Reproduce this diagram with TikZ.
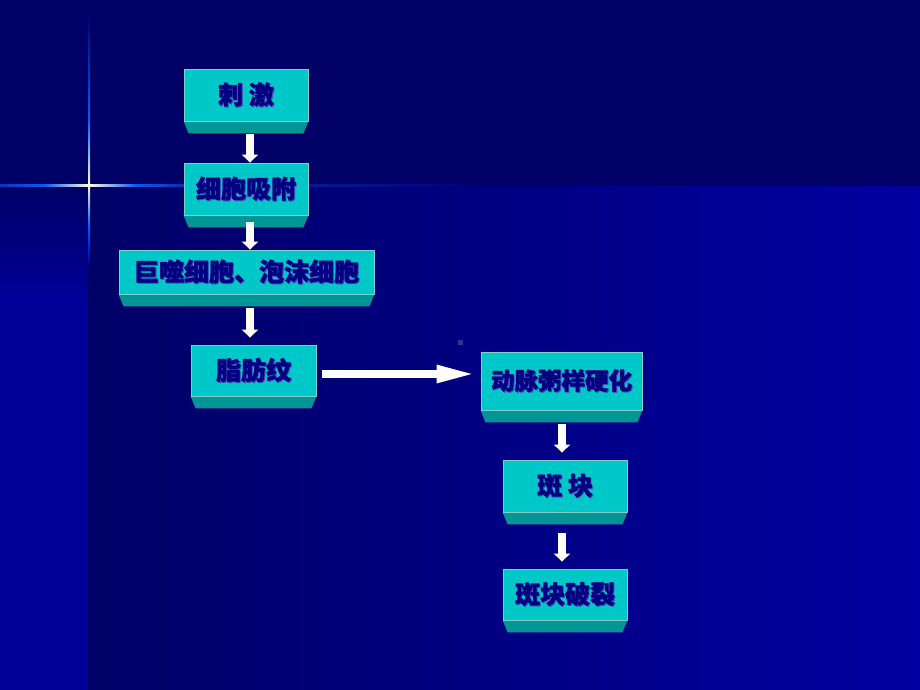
\documentclass[tikz,border=0pt]{standalone}
\usepackage{fontspec}
\newfontfamily\cjk{Noto Sans CJK SC}[BoldFeatures={FakeBold=1.6}]
\usetikzlibrary{arrows.meta,calc}
\definecolor{topbg}{RGB}{0,0,102}
\definecolor{lowbg}{RGB}{0,0,160}
\definecolor{stripbg}{RGB}{0,0,152}
\definecolor{starblue}{RGB}{16,90,245}
\definecolor{starcore}{RGB}{255,255,225}
\definecolor{boxfill}{RGB}{0,200,200}
\definecolor{boxedge}{RGB}{130,205,205}
\definecolor{bevelfill}{RGB}{0,150,150}
\definecolor{textc}{RGB}{0,0,128}
\definecolor{shadowc}{RGB}{70,70,190}
\definecolor{dotc}{RGB}{50,50,150}
\newcommand{\shtext}[1]{\leavevmode\rlap{\color{shadowc}\kern1pt\raisebox{-1pt}{#1}}#1}
\newcommand{\mybevel}[1]{%
  \fill[bevelfill] (#1.south west) -- (#1.south east) -- ++(-5,12) -- ($(#1.south west)+(5,12)$) -- cycle;
  \draw[boxedge,line width=0.8pt] (#1.south west) -- (#1.south east);}
\tikzset{
  stepbox/.style={draw=boxedge, line width=0.8pt, fill=boxfill, inner sep=0pt,
    text=textc, font=\cjk\bfseries\fontsize{25}{25}\selectfont},
  downarrow/.style={draw=white, line width=8pt,
    -{Triangle[width=16pt,length=8pt]}},
  sidearrow/.style={draw=white, line width=8pt,
    -{Triangle[width=16pt,length=40pt]}}
}
\begin{document}
\begin{tikzpicture}[x=1pt,y=-1pt]
\useasboundingbox (0,0) rectangle (920,690);
% background
\fill[topbg] (0,0) rectangle (920,186);
\shade[left color=topbg, right color=lowbg] (88,186) rectangle (920,690);
\shade[top color=topbg, bottom color=stripbg] (0,186) rectangle (88,300);
\fill[stripbg] (0,300) rectangle (88,690);
% star
\shade[top color=topbg, bottom color=starblue] (88,10) rectangle (90,120);
\shade[top color=starblue, bottom color=starcore] (88,120) rectangle (90,185);
\shade[top color=starcore, bottom color=starblue] (88,185) rectangle (90,225);
\shade[top color=starblue, bottom color=stripbg] (88,225) rectangle (90,265);
\shade[left color=starblue!60!topbg, right color=starblue] (0,184) rectangle (45,186);
\shade[left color=starblue, right color=starcore] (45,184) rectangle (89,186);
\shade[left color=starcore, right color=starblue] (89,184) rectangle (135,186);
\shade[left color=starblue, right color=starblue!50!topbg] (135,184) rectangle (185,186);
\shade[left color=starblue!50!topbg, right color=topbg!70!lowbg] (185,184) rectangle (480,186);
% stray dot
\fill[dotc] (458,340) rectangle (463,345);
% boxes
\node[stepbox, minimum width=124pt, minimum height=52pt] (n1) at (246,95) {\shtext{刺 激}};
\node[stepbox, minimum width=124pt, minimum height=52pt] (n2) at (246,189) {\shtext{细胞吸附}};
\node[stepbox, minimum width=255pt, minimum height=44pt] (n3) at (246.5,272) {\shtext{巨噬细胞、泡沫细胞}};
\node[stepbox, minimum width=125pt, minimum height=51pt] (n4) at (253.5,370.5) {\shtext{脂肪纹}};
\node[stepbox, minimum width=161pt, minimum height=58pt, font=\cjk\bfseries\fontsize{23.5}{23.5}\selectfont] (n5) at (561.5,381) {\shtext{动脉粥样硬化}};
\node[stepbox, minimum width=124pt, minimum height=52pt] (n6) at (565,486) {\shtext{斑 块}};
\node[stepbox, minimum width=124pt, minimum height=51pt] (n7) at (565,594.5) {\shtext{斑块破裂}};
\mybevel{n1}\mybevel{n2}\mybevel{n3}\mybevel{n4}\mybevel{n5}\mybevel{n6}\mybevel{n7}
% arrows
\draw[downarrow] ($(n1.south)+(4,13)$) -- ($(n2.north)+(4,0)$);
\draw[downarrow] ($(n2.south)+(4,7)$) -- ($(n3.north)+(3.5,0)$);
\draw[downarrow] ($(n3.south)+(3.5,14)$) -- ($(n4.north)+(-3.5,-7)$);
\draw[sidearrow] ($(n4.east)+(6,3.5)$) -- ($(n5.west)+(-4,-7)$);
\draw[downarrow] ($(n5.south)+(0.5,14)$) -- ($(n6.north)+(-3,-7)$);
\draw[downarrow] ($(n6.south)+(-3,21)$) -- ($(n7.north)+(-3,-7)$);
\end{tikzpicture}
\end{document}
